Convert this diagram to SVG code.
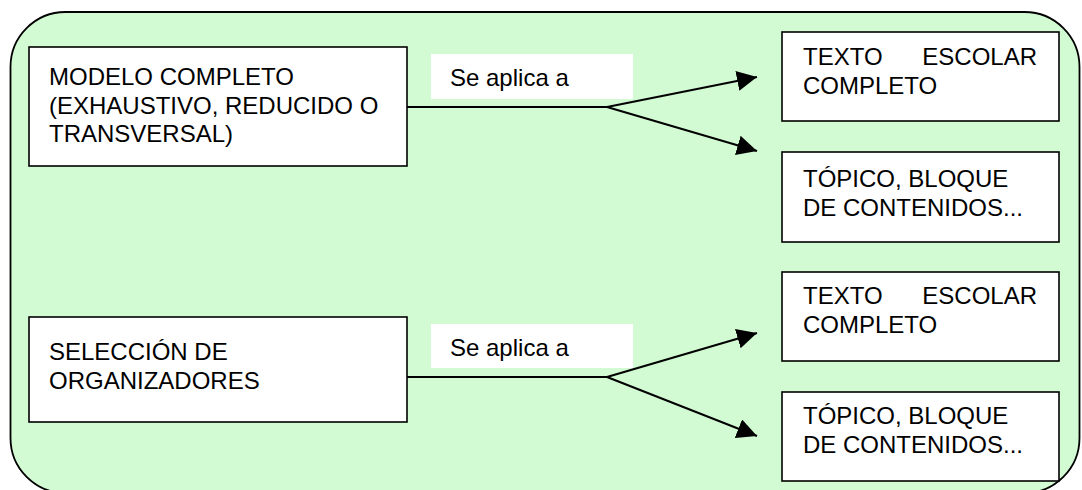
<svg xmlns="http://www.w3.org/2000/svg" width="1082" height="490" viewBox="0 0 1082 490">
  <defs>
    <style>
      .bg { fill: #d3fbd3; stroke: #000; stroke-width: 1.8; }
      .box { fill: #fff; stroke: #000; stroke-width: 1.6; }
      .lbl { fill: #fff; stroke: none; }
      .t { font-family: "Liberation Sans", Arial, sans-serif; font-size: 24px; fill: #000; }
      .edge { fill: none; stroke: #000; stroke-width: 2; }
    </style>
    <marker id="arrow" markerUnits="userSpaceOnUse" markerWidth="22" markerHeight="22" refX="20" refY="10" orient="auto">
      <path d="M0,0 L20,10 L0,20 Z" fill="#000"/>
    </marker>
  </defs>

  <rect class="bg" x="10.5" y="12" width="1069" height="481" rx="55" ry="55"/>

  <g id="connectors">
    <polyline class="edge" points="407,107 607,107"/>
    <line class="edge" x1="607" y1="107" x2="757" y2="77" marker-end="url(#arrow)"/>
    <line class="edge" x1="607" y1="107" x2="757" y2="151" marker-end="url(#arrow)"/>
    <polyline class="edge" points="407,377 607,377"/>
    <line class="edge" x1="607" y1="377" x2="757" y2="333" marker-end="url(#arrow)"/>
    <line class="edge" x1="607" y1="377" x2="757" y2="436" marker-end="url(#arrow)"/>
  </g>

  <g id="label-1">
    <rect class="lbl" x="431" y="54" width="202" height="45"/>
    <text class="t" x="450" y="86">Se aplica a</text>
  </g>
  <g id="label-2">
    <rect class="lbl" x="431" y="324" width="202" height="44"/>
    <text class="t" x="450" y="355.5">Se aplica a</text>
  </g>

  <g id="modelo-completo">
    <rect class="box" x="29" y="47" width="378" height="119"/>
    <text class="t" x="49" y="85">MODELO COMPLETO</text>
    <text class="t" x="49" y="113.5">(EXHAUSTIVO, REDUCIDO O</text>
    <text class="t" x="49" y="142">TRANSVERSAL)</text>
  </g>

  <g id="seleccion-organizadores">
    <rect class="box" x="29" y="317" width="378" height="105"/>
    <text class="t" x="49" y="360">SELECCIÓN DE</text>
    <text class="t" x="49" y="389">ORGANIZADORES</text>
  </g>

  <g id="texto-escolar-1">
    <rect class="box" x="782" y="32" width="277" height="89"/>
    <text class="t" x="803" y="65">TEXTO</text>
    <text class="t" x="1037" y="65" text-anchor="end">ESCOLAR</text>
    <text class="t" x="803" y="94">COMPLETO</text>
  </g>

  <g id="topico-1">
    <rect class="box" x="782" y="152" width="277" height="90"/>
    <text class="t" x="803" y="187">TÓPICO, BLOQUE</text>
    <text class="t" x="803" y="215.5">DE CONTENIDOS...</text>
  </g>

  <g id="texto-escolar-2">
    <rect class="box" x="782" y="272" width="277" height="89"/>
    <text class="t" x="803" y="303.5">TEXTO</text>
    <text class="t" x="1037" y="303.5" text-anchor="end">ESCOLAR</text>
    <text class="t" x="803" y="332.5">COMPLETO</text>
  </g>

  <g id="topico-2">
    <rect class="box" x="782" y="392" width="277" height="89"/>
    <text class="t" x="803" y="424">TÓPICO, BLOQUE</text>
    <text class="t" x="803" y="453">DE CONTENIDOS...</text>
  </g>
</svg>
